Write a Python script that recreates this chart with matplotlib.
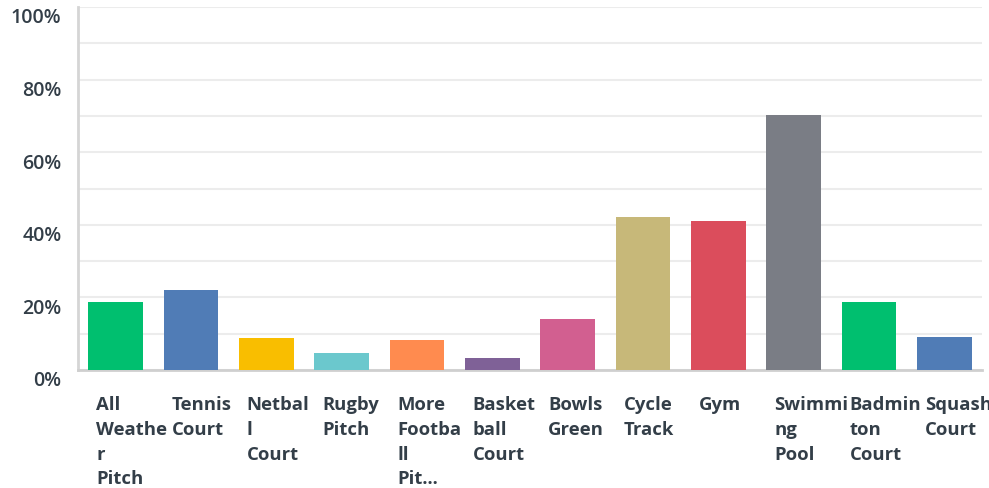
import matplotlib
matplotlib.use("Agg")
import matplotlib.pyplot as plt
import matplotlib.transforms as mtransforms

# facility options and % of respondents
labels = ["All\nWeathe\nr\nPitch", "Tennis\nCourt", "Netbal\nl\nCourt", "Rugby\nPitch",
          "More\nFootba\nll\nPit...", "Basket\nball\nCourt", "Bowls\nGreen", "Cycle\nTrack",
          "Gym", "Swimmi\nng\nPool", "Badmin\nton\nCourt", "Squash\nCourt"]
values = [18.7, 22.0, 8.8, 4.7, 8.3, 3.3, 14.0, 42.1, 41.0, 70.2, 18.7, 9.1]
colors = ["#00bf6f", "#507cb6", "#f9be00", "#6bc8cd", "#ff8b4f", "#7f6197",
          "#d25f90", "#c7b879", "#db4d5c", "#7a7d85", "#00bf6f", "#507cb6"]
yticks = [0, 20, 40, 60, 80, 100]

txt = "#333e48"
plt.rcParams['font.family'] = ["Open Sans", "DejaVu Sans"]

fig = plt.figure(figsize=(9.89, 4.89), dpi=100)
ax = fig.add_axes([78/989, 118/489, (982-78)/989, (371-8)/489])

x = list(range(len(values)))
ax.bar(x, values, width=0.73, color=colors, zorder=3)

ax.set_xlim(-0.5, len(values) - 0.5)
ax.set_ylim(0, 100)
ax.set_yticks(yticks)
ax.set_yticklabels([f"{t}%" for t in yticks], fontsize=14, color=txt, fontweight="semibold")
ax.set_yticks(range(10, 100, 20), minor=True)
ax.tick_params(axis="y", which="both", length=0, pad=12)
ax.set_xticks([])
ax.grid(axis="y", which="both", color="#ececec", linewidth=1.5, zorder=0)

# tick labels sit a little below their gridlines
shift = mtransforms.ScaledTranslation(0, -8/100, fig.dpi_scale_trans)
for t in ax.get_yticklabels():
    t.set_transform(t.get_transform() + shift)

for s in ["top", "right"]:
    ax.spines[s].set_visible(False)
ax.spines["left"].set_color("#d5d5d5")
ax.spines["left"].set_linewidth(2)
ax.spines["bottom"].set_color("#cfcfcf")
ax.spines["bottom"].set_linewidth(2)

# wrapped category labels, left-aligned under each bar
trans = mtransforms.blended_transform_factory(ax.transData, ax.transAxes)
for i, lab in enumerate(labels):
    ax.text(i - 0.26, -0.07, lab, transform=trans, ha="left", va="top",
            fontsize=13.3, fontweight="bold", color=txt, linespacing=1.47,
            clip_on=False)

fig.savefig("out.png", dpi=100)
